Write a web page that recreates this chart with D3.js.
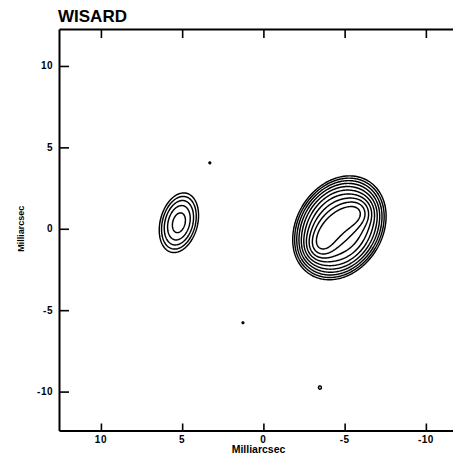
<!DOCTYPE html>
<html>
<head>
<meta charset="utf-8">
<script src="https://cdn.jsdelivr.net/npm/d3@7"></script>
<style>
  body { margin: 0; background: #fff; }
  text { font-family: "Liberation Sans", Arial, Helvetica, sans-serif; font-weight: bold; fill: #000; }
</style>
</head>
<body>
<svg id="chart" width="453" height="459"></svg>
<script>
// ---- map data -------------------------------------------------------
const title = "WISARD";
const axisLabel = "Milliarcsec";
const xTicks = [10, 5, 0, -5, -10];
const yTicks = [10, 5, 0, -5, -10];

// Brightness components: offsets (mas), sigmas (mas), position angle (deg E of N),
// peak (contour units) and profile exponent (1 = Gaussian, >1 = flatter top)
const compX    = [-4.68, -3.477, -3.729, -4.025, -4.394, -4.806, -5.280, -5.815,  5.20, -3.48,  3.30,  1.26];
const compY    = [ 0.06, -1.104, -0.589, -0.141,  0.239,  0.577,  0.834,  1.043,  0.37, -9.75,  4.05, -5.77];
const compSMaj = [ 1.70,  0.49,   0.49,   0.49,   0.49,   0.49,   0.49,   0.49,   1.06,  0.14,  0.09,  0.09];
const compSMin = [ 1.33,  0.49,   0.49,   0.49,   0.49,   0.49,   0.49,   0.49,   0.65,  0.12,  0.09,  0.09];
const compPA   = [  -32,     0,      0,      0,      0,      0,      0,      0,    -15,     0,     0,     0];
const compPeak = [ 16.0,  8.07,   8.07,   8.07,   8.07,   8.07,   8.07,   8.07,   4.75,  1.35,  1.25,  1.25];
const compExp  = [  1.5,     1,      1,      1,      1,      1,      1,      1,      1,     1,     1,     1];

// Contour levels (factor sqrt(2) steps)
const levels = [1, 1.41, 2, 2.83, 4, 5.66, 8, 11.3, 16, 22.6];

// ---- layout ---------------------------------------------------------
const svg = d3.select("#chart");
const plot = { left: 59, top: 29, right: 453, bottom: 430.5 };

const x = d3.scaleLinear().domain([12.58, -11.67]).range([plot.left, plot.right]);
const y = d3.scaleLinear().domain([12.27, -12.39]).range([plot.top, plot.bottom]);

// ---- brightness grid ------------------------------------------------
const nx = Math.round(plot.right - plot.left);
const ny = Math.round(plot.bottom - plot.top);
const values = new Float64Array(nx * ny);
const comps = compX.map((cx, k) => {
  const pa = compPA[k] * Math.PI / 180;
  return { cx, cy: compY[k], sa: compSMaj[k], sb: compSMin[k],
           s: Math.sin(pa), c: Math.cos(pa), p: compPeak[k], q: compExp[k] };
});
for (let j = 0; j < ny; j++) {
  const dy = y.invert(plot.top + j + 0.5);
  for (let i = 0; i < nx; i++) {
    const dx = x.invert(plot.left + i + 0.5);
    let v = 0;
    for (const g of comps) {
      const ex = dx - g.cx, ey = dy - g.cy;
      const u = ex * g.s + ey * g.c;      // along major axis
      const w = ex * g.c - ey * g.s;      // along minor axis
      const r2 = 0.5 * ((u * u) / (g.sa * g.sa) + (w * w) / (g.sb * g.sb));
      v += g.p * Math.exp(-Math.pow(r2, g.q));
    }
    values[j * nx + i] = v;
  }
}

const contours = d3.contours().size([nx, ny]).thresholds(levels)(values);

svg.append("g")
  .attr("transform", `translate(${plot.left},${plot.top})`)
  .selectAll("path")
  .data(contours)
  .join("path")
  .attr("d", d3.geoPath())
  .attr("fill", "none")
  .attr("stroke", "#000")
  .attr("stroke-width", 1.45)
  .attr("stroke-linejoin", "round");

// ---- axes -----------------------------------------------------------
const fmt = d => d3.format("d")(d).replace("\u2212", "-");

const xAxis = svg.append("g")
  .attr("transform", `translate(0,${plot.bottom})`)
  .call(d3.axisTop(x).tickValues(xTicks).tickSize(7).tickSizeOuter(0).tickFormat(""));
const xTop = svg.append("g")
  .attr("transform", `translate(0,${plot.top})`)
  .call(d3.axisBottom(x).tickValues(xTicks).tickSize(9).tickSizeOuter(0).tickFormat(""));
const yAxis = svg.append("g")
  .attr("transform", `translate(${plot.left},0)`)
  .call(d3.axisRight(y).tickValues(yTicks).tickSize(10).tickSizeOuter(0).tickFormat(""));

[xAxis, xTop, yAxis].forEach(g => {
  g.selectAll(".domain").attr("stroke", "#000").attr("stroke-width", 2);
  g.selectAll(".tick line").attr("stroke", "#000").attr("stroke-width", 1.6);
});

// tick labels
svg.append("g").selectAll("text")
  .data(xTicks).join("text")
  .attr("x", d => x(d)).attr("y", plot.bottom + 12)
  .attr("text-anchor", "middle")
  .style("font-size", "10px").style("letter-spacing", "0.5px")
  .text(fmt);

svg.append("g").selectAll("text")
  .data(yTicks).join("text")
  .attr("x", 53).attr("y", d => y(d) + 3.5)
  .attr("text-anchor", "end")
  .style("font-size", "10px").style("letter-spacing", "0.5px")
  .text(fmt);

// axis titles
svg.append("text")
  .attr("x", 258.5).attr("y", 453)
  .attr("text-anchor", "middle")
  .style("font-size", "10.5px")
  .text(axisLabel);

svg.append("text")
  .attr("transform", `translate(24,${y(0)}) rotate(-90)`)
  .attr("text-anchor", "middle")
  .style("font-size", "9px")
  .text(axisLabel);

// title
svg.append("text")
  .attr("x", 58).attr("y", 22)
  .style("font-size", "17px")
  .text(title);
</script>
</body>
</html>
